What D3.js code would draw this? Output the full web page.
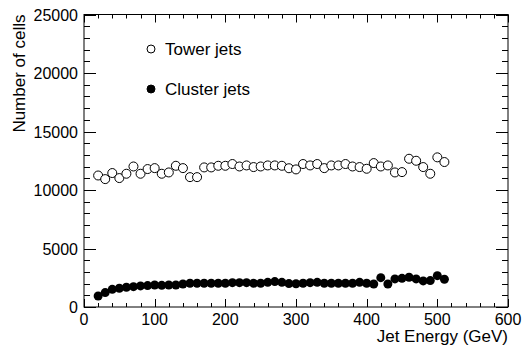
<!DOCTYPE html>
<html><head><meta charset="utf-8">
<script src="https://cdn.jsdelivr.net/npm/d3@7"></script>
<style>body{margin:0;background:#fff;}svg{display:block;font-family:"Liberation Sans",Arial,sans-serif;}</style>
</head><body><svg id="c" width="524" height="347"></svg>
<script>
const energies = [20,30,40,50,60,70,80,90,100,110,120,130,140,150,160,170,180,190,200,210,220,230,240,250,260,270,280,290,300,310,320,330,340,350,360,370,380,390,400,410,420,430,440,450,460,470,480,490,500,510];
const towerJets = [11240,10930,11450,11020,11390,12010,11390,11790,11870,11390,11500,12070,11870,11100,11100,11930,11930,12070,12070,12220,12010,12100,11960,12010,12100,12100,12070,11860,11760,12220,12100,12220,11870,12100,12100,12220,12010,11960,11815,12300,12010,12100,11500,11530,12670,12500,11960,11390,12790,12390];
const clusterJets = [940,1230,1510,1600,1690,1740,1800,1830,1880,1850,1880,1880,1970,2030,2030,2030,2030,2030,2030,2080,2080,2080,2030,2030,2110,2170,2110,2000,1990,2030,2080,2110,2030,2030,2030,2030,2030,2110,2030,1970,2510,1970,2400,2450,2540,2400,2230,2260,2680,2370];
const xTicks = [0,100,200,300,400,500,600];
const yTicks = [0,5000,10000,15000,20000,25000];
const seriesNames = ["Tower jets","Cluster jets"];

const svg = d3.select("#c");
const L=84,R=508,T=14.5,B=307;
const x = d3.scaleLinear().domain([0,600]).range([L,R]);
const y = d3.scaleLinear().domain([0,25000]).range([B,T]);
const fs = 16, fsT = 17;

svg.append("rect").attr("x",L).attr("y",T).attr("width",R-L).attr("height",B-T)
  .attr("fill","none").attr("stroke","#000").attr("stroke-width",1);

const g = svg.append("g").attr("stroke","#000").attr("stroke-width",1);
d3.range(0,601,20).forEach(v=>{
  const major = v%100===0;
  const len = major?8:4;
  const px = Math.round(x(v))+0.5;
  g.append("line").attr("x1",px).attr("x2",px).attr("y1",B).attr("y2",B-len);
  g.append("line").attr("x1",px).attr("x2",px).attr("y1",T).attr("y2",T+len);
});
d3.range(0,25001,1000).forEach(v=>{
  const major = v%5000===0;
  const len = major?12:6;
  const py = Math.round(y(v))+0.5;
  g.append("line").attr("x1",L).attr("x2",L+len).attr("y1",py).attr("y2",py);
  g.append("line").attr("x1",R).attr("x2",R-len).attr("y1",py).attr("y2",py);
});

svg.selectAll(".xl").data(xTicks).enter().append("text")
  .attr("x",d=>x(d)).attr("y",B+18).attr("text-anchor","middle")
  .attr("font-size",fs).text(d=>d);
svg.selectAll(".yl").data(yTicks).enter().append("text")
  .attr("x",L-6).attr("y",d=>y(d)+6).attr("text-anchor","end")
  .attr("font-size",fs).text(d=>d);

svg.append("text").attr("x",R).attr("y",342).attr("text-anchor","end")
  .attr("font-size",fsT).text("Jet Energy (GeV)");
svg.append("text").attr("transform",`translate(25,${T}) rotate(-90)`)
  .attr("text-anchor","end").attr("font-size",fsT).text("Number of cells");

const r = 4.5;
svg.append("g").selectAll("circle").data(energies.map((e,i)=>[e,towerJets[i]])).enter()
  .append("circle").attr("cx",d=>x(d[0])).attr("cy",d=>y(d[1])).attr("r",r)
  .attr("fill","#fff").attr("stroke","#000").attr("stroke-width",1);
svg.append("g").selectAll("circle").data(energies.map((e,i)=>[e,clusterJets[i]])).enter()
  .append("circle").attr("cx",d=>x(d[0])).attr("cy",d=>y(d[1])).attr("r",r)
  .attr("fill","#000");

const leg = [{name:seriesNames[0],fill:"#fff",cy:49},{name:seriesNames[1],fill:"#000",cy:89}];
leg.forEach(d=>{
  svg.append("circle").attr("cx",151).attr("cy",d.cy).attr("r",r-0.5)
    .attr("fill",d.fill).attr("stroke","#000").attr("stroke-width",1);
  svg.append("text").attr("x",165).attr("y",d.cy+6).attr("font-size",fsT).text(d.name);
});
</script></body></html>
